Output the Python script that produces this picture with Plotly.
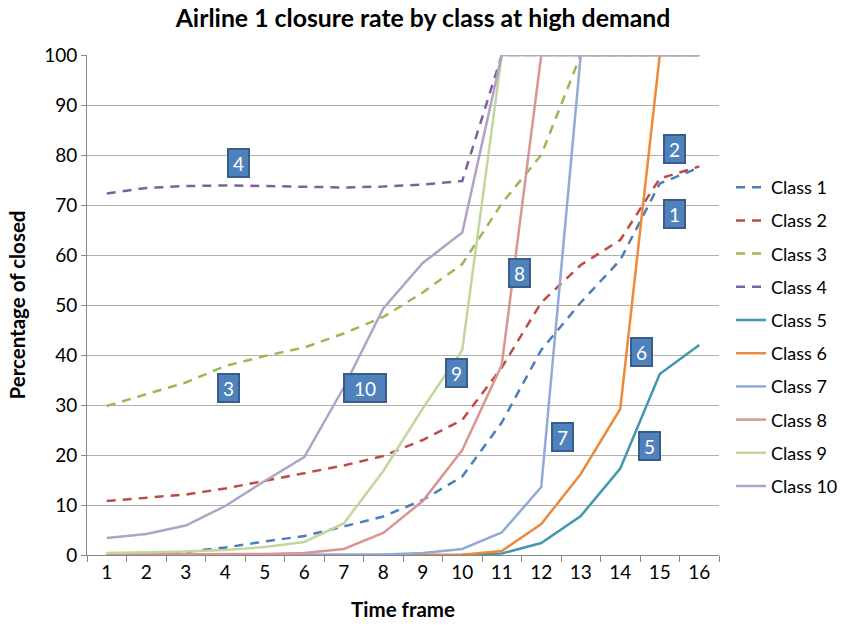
import plotly.graph_objects as go

# Time frames on the category axis
time_frames = [str(i) for i in range(1, 17)]

# Closure rate (%) per class at high demand
class_1 = [0.2, 0.3, 0.6, 1.5, 2.7, 3.8, 5.7, 7.7, 11.0, 15.7, 26.5, 41.0, 50.5, 59.0, 74.3, 77.5]
class_2 = [10.8, 11.4, 12.1, 13.3, 14.8, 16.3, 17.9, 19.8, 23.0, 27.0, 37.5, 50.5, 58.0, 63.0, 75.3, 77.7]
class_3 = [29.8, 32.2, 34.5, 37.8, 39.8, 41.5, 44.3, 47.6, 52.5, 58.2, 70.3, 80.0, 100, 100, 100, 100]
class_4 = [72.3, 73.4, 73.8, 73.9, 73.8, 73.6, 73.5, 73.7, 74.1, 74.8, 100, 100, 100, 100, 100, 100]
class_5 = [0, 0, 0, 0, 0, 0, 0, 0, 0, 0.05, 0.3, 2.4, 7.8, 17.3, 36.2, 42.0]
class_6 = [0, 0, 0, 0, 0, 0, 0, 0, 0, 0.05, 0.8, 6.2, 16.2, 29.2, 100, 100]
class_7 = [0, 0, 0, 0, 0, 0, 0, 0.1, 0.4, 1.2, 4.5, 13.6, 100, 100, 100, 100]
class_8 = [0.1, 0.1, 0.1, 0.1, 0.2, 0.4, 1.2, 4.4, 10.8, 21.0, 38.0, 100, 100, 100, 100, 100]
class_9 = [0.4, 0.5, 0.7, 1.0, 1.6, 2.6, 6.3, 16.8, 29.3, 41.0, 100, 100, 100, 100, 100, 100]
class_10 = [3.4, 4.2, 5.9, 9.8, 14.8, 19.6, 33.5, 49.3, 58.4, 64.5, 100, 100, 100, 100, 100, 100]

series_names = ["Class 1", "Class 2", "Class 3", "Class 4", "Class 5",
                "Class 6", "Class 7", "Class 8", "Class 9", "Class 10"]
series_values = [class_1, class_2, class_3, class_4, class_5,
                 class_6, class_7, class_8, class_9, class_10]
series_colors = ["#4a7ebb", "#be4b48", "#98b954", "#7d60a0", "#4198af",
                 "#ec8a3a", "#93a9d7", "#d99694", "#c3d69b", "#b3a2c7"]
series_dash = ["9px,7px"] * 4 + ["solid"] * 6

# Boxed class tags placed next to their curves (category index, percent)
tag_texts = ["4", "3", "10", "9", "8", "7", "6", "5", "2", "1"]
tag_x = [3.33, 3.07, 6.53, 8.85, 10.46, 11.55, 13.54, 13.75, 14.38, 14.38]
tag_y = [78.4, 33.5, 33.5, 36.4, 56.5, 23.6, 40.7, 21.9, 81.3, 68.3]

FONT = "Lato"

fig = go.Figure()
for i, (name, vals, col, dash) in enumerate(zip(series_names, series_values, series_colors, series_dash)):
    fig.add_trace(go.Scatter(
        x=time_frames, y=vals, name=name, mode="lines",
        line=dict(color=col, width=2.5, dash=dash),
        legendgroup=f"g{i}", cliponaxis=False,
    ))

annotations = []
for t, ax_, ay_ in zip(tag_texts, tag_x, tag_y):
    annotations.append(dict(
        x=ax_, y=ay_, xref="x", yref="y", text=t, showarrow=False,
        font=dict(family=FONT, size=19, color="white"),
        bgcolor="#4f81bd", bordercolor="#385d8a", borderwidth=2, borderpad=0,
        width=40 if len(t) > 1 else 19, height=26,
    ))

fig.update_layout(
    width=846, height=626,
    margin=dict(l=87, r=127, t=55, b=71, autoexpand=False),
    paper_bgcolor="white", plot_bgcolor="white",
    font=dict(family=FONT, size=18, color="black"),
    title=dict(text="<b>Airline 1 closure rate by class at high demand</b>",
               x=0.5, xref="container", xanchor="center",
               y=1 - 18 / 626, yref="container", yanchor="middle",
               font=dict(family=FONT, size=24.8, color="black")),
    xaxis=dict(
        type="category", tickson="boundaries", ticks="outside", ticklen=6,
        tickcolor="#868686", showline=True, linecolor="#868686", linewidth=1,
        showgrid=False, range=[-0.5, 15.5],
        title=dict(text="<b>Time frame</b>", font=dict(family=FONT, size=20.5), standoff=20),
        tickfont=dict(family=FONT, size=19),
    ),
    yaxis=dict(
        range=[0, 100], dtick=10, ticks="outside", ticklen=5, tickcolor="#868686",
        showline=True, linecolor="#868686", linewidth=1,
        showgrid=True, gridcolor="#b0b0b0", gridwidth=1, zeroline=False,
        title=dict(text="<b>Percentage of closed</b>", font=dict(family=FONT, size=20.5), standoff=12),
        tickfont=dict(family=FONT, size=19),
    ),
    legend=dict(
        x=(731 - 87) / 632, xanchor="left", y=(555 - 169) / 500, yanchor="top",
        font=dict(family=FONT, size=18), tracegroupgap=6.8,
        bgcolor="rgba(0,0,0,0)", itemwidth=30,
    ),
    annotations=annotations,
)

fig.write_html("out.html")
